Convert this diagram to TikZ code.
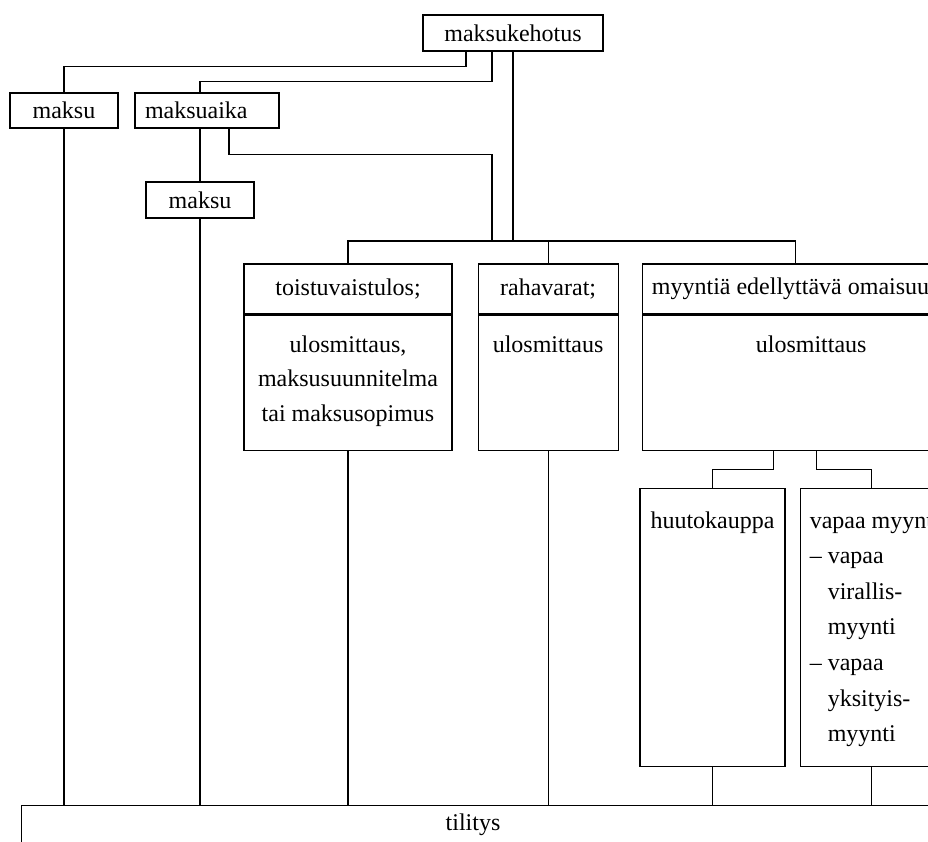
\documentclass[tikz,border=0pt]{standalone}
\usepackage{fontspec}
\setmainfont{Liberation Serif}
\usetikzlibrary{positioning}

\tikzset{
  box/.style={draw, rectangle, inner sep=0pt, line width=1.1pt},
  lbl/.style={inner sep=0pt, align=center},
  link/.style={draw, line width=1.1pt},
}

\begin{document}
\begin{tikzpicture}[x=1pt,y=-1pt,font=\fontsize{24}{34.5}\selectfont]
\useasboundingbox (0,0) rectangle (928,841);
\clip (0,0) rectangle (928,841);

\node[box, minimum width=180, minimum height=36] (kehotus) at (513,33) {maksukehotus};
\node[box, minimum width=108, minimum height=35] (maksuA) at (64,110.5) {maksu};
\node[box, minimum width=144, minimum height=35, inner xsep=10pt, text width=124pt, align=left] (maksuaika) at (207,110.5) {maksuaika};
\node[box, minimum width=108, minimum height=36] (maksuB) at (200,200) {maksu};

\node[box, minimum width=208, minimum height=50] (toisHead) at (348,289) {toistuvaistulos;};
\node[box, minimum width=208, minimum height=135, below=0pt of toisHead] (toisBody) {};
\node[box, minimum width=140, minimum height=50, right=25pt of toisHead] (rahaHead) {rahavarat;};
\node[box, minimum width=140, minimum height=135, below=0pt of rahaHead] (rahaBody) {};
\node[box, minimum width=306, minimum height=50, right=23pt of rahaHead] (myynHead) {myyntiä edellyttävä omaisuus};
\node[box, minimum width=306, minimum height=135, below=0pt of myynHead] (myynBody) {};

\node[lbl, anchor=north] (toisTxt) at ([yshift=-21pt]toisBody.north) {ulosmittaus,\\maksusuunnitelma\\tai maksusopimus};
\node[lbl, anchor=north] (rahaTxt) at ([yshift=-21pt]rahaBody.north) {ulosmittaus};
\node[lbl, anchor=north] (myynTxt) at ([xshift=16pt,yshift=-21pt]myynBody.north) {ulosmittaus};

\node[box, minimum width=145, minimum height=278, anchor=north] (huut) at (712.5,488) {};
\node[box, minimum width=142, minimum height=278, right=14pt of huut] (vapaa) {};
\node[lbl, anchor=north] (huutTxt) at ([yshift=-24pt]huut.north) {huutokauppa};
\node[lbl, anchor=north west, align=left, font=\fontsize{24}{35.6}\selectfont] (vapaaTxt) at ([xshift=10pt,yshift=-24pt]vapaa.north west)
  {vapaa myynti\\– vapaa\\\phantom{– }virallis-\\\phantom{– }myynti\\– vapaa\\\phantom{– }yksityis-\\\phantom{– }myynti};

\node[box, minimum width=960, minimum height=40, anchor=north west] (tilitys) at (21,805) {};
\node[lbl] (tilitysTxt) at (473,825) {tilitys};

\coordinate (bus) at (0,241);
\coordinate (k1) at ([xshift=-47pt]kehotus.south);
\coordinate (k2) at ([xshift=-21pt]kehotus.south);

\draw[link] (k1) -- ++(0,15) -| (maksuA.north);
\draw[link] (k2) -- ++(0,30) -| (maksuaika.north -| maksuB.north);
\draw[link] (kehotus.south) -- (kehotus.south |- bus);
\draw[link] ([xshift=22pt]maksuaika.south) -- ++(0,26) -| (k2 |- bus);
\draw[link] (maksuaika.south -| maksuB.north) -- (maksuB.north);
\draw[link] (toisHead.north) -- (toisHead.north |- bus) -| (myynHead.north);
\draw[link] (rahaHead.north) -- (rahaHead.north |- bus);
\draw[link] ([xshift=-21.5pt]myynBody.south) -- ++(0,19) -| (huut.north);
\draw[link] ([xshift=21.5pt]myynBody.south) -- ++(0,19) -| (vapaa.north);

\draw[link] (maksuA.south) -- (maksuA.south |- tilitys.north);
\draw[link] (maksuB.south) -- (maksuB.south |- tilitys.north);
\draw[link] (toisBody.south) -- (toisBody.south |- tilitys.north);
\draw[link] (rahaBody.south) -- (rahaBody.south |- tilitys.north);
\draw[link] (huut.south) -- (huut.south |- tilitys.north);
\draw[link] (vapaa.south) -- (vapaa.south |- tilitys.north);
\end{tikzpicture}
\end{document}
